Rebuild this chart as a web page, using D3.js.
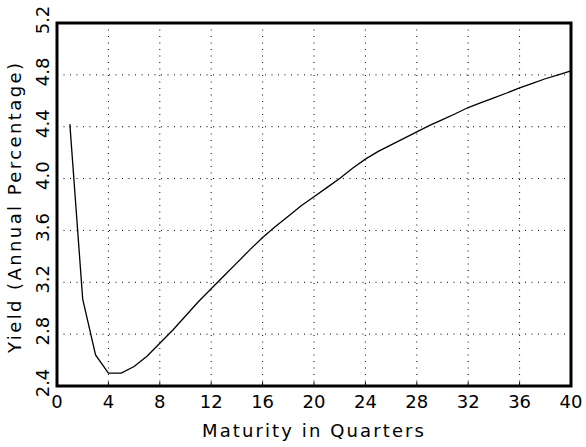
<!DOCTYPE html>
<html>
<meta charset="utf-8">
<script src="https://d3js.org/d3.v7.min.js"></script>
<body style="margin:0;background:#fff">
<script>

// yield curve (quarter -> annual %)
var quarters = d3.range(1, 41);
var yields = [4.42, 3.07, 2.64, 2.50, 2.50, 2.55, 2.63, 2.73, 2.83, 2.94,
              3.05, 3.15, 3.25, 3.35, 3.45, 3.545, 3.63, 3.71, 3.79, 3.86,
              3.93, 4.00, 4.08, 4.15, 4.21, 4.26, 4.31, 4.36, 4.41, 4.455,
              4.50, 4.548, 4.585, 4.623, 4.66, 4.70, 4.735, 4.77, 4.80, 4.83];
var xTicks = [0, 4, 8, 12, 16, 20, 24, 28, 32, 36, 40];
var yTicks = [2.4, 2.8, 3.2, 3.6, 4.0, 4.4, 4.8, 5.2];

var W = 586, H = 447;
var plot = ({left: 57, right: 571, top: 23, bottom: 386});
var font = "DejaVu Sans";

var svg = d3.select("body").append("svg")
  .attr("width", W)
  .attr("height", H);

var x = d3.scaleLinear().domain([0, 40]).range([plot.left, plot.right]);
var y = d3.scaleLinear().domain([2.4, 5.2]).range([plot.bottom, plot.top]);

// dotted grid
svg.append("g").selectAll("line")
  .data(xTicks.slice(1, -1))
  .enter().append("line")
  .attr("x1", d => x(d)).attr("x2", d => x(d))
  .attr("y1", plot.top).attr("y2", plot.bottom)
  .attr("stroke", "#000").attr("stroke-width", 1)
  .attr("stroke-dasharray", "1,5.5");
svg.append("g").selectAll("line")
  .data(yTicks.slice(1, -1))
  .enter().append("line")
  .attr("y1", d => y(d)).attr("y2", d => y(d))
  .attr("x1", plot.left).attr("x2", plot.right)
  .attr("stroke", "#000").attr("stroke-width", 1)
  .attr("stroke-dasharray", "1,5.5");

// little inside ticks on the bottom
svg.append("g").selectAll("line")
  .data(xTicks.slice(1, -1))
  .enter().append("line")
  .attr("x1", d => x(d)).attr("x2", d => x(d))
  .attr("y1", plot.bottom).attr("y2", plot.bottom - 4)
  .attr("stroke", "#000");

// the curve
var line = d3.line()
  .x((d, i) => x(quarters[i]))
  .y(d => y(d));
svg.append("path")
  .datum(yields)
  .attr("d", line)
  .attr("fill", "none")
  .attr("stroke", "#000")
  .attr("stroke-width", 1.3);

// heavy frame
svg.append("rect")
  .attr("x", plot.left).attr("y", plot.top)
  .attr("width", plot.right - plot.left)
  .attr("height", plot.bottom - plot.top)
  .attr("fill", "none")
  .attr("stroke", "#000")
  .attr("stroke-width", 3);

// x tick labels
svg.append("g").selectAll("text")
  .data(xTicks)
  .enter().append("text")
  .attr("x", d => x(d))
  .attr("y", 408)
  .attr("text-anchor", "middle")
  .attr("font-family", font)
  .attr("font-size", 18)
  .text(d => d);

// y tick labels, rotated
svg.append("g").selectAll("text")
  .data(yTicks)
  .enter().append("text")
  .attr("transform", d => `translate(49,${y(d) - 3}) rotate(-90)`)
  .attr("text-anchor", "middle")
  .attr("font-family", font)
  .attr("font-size", 18)
  .text(d => d.toFixed(1));

// axis titles (the original font is wide, so stretch the spacing)
svg.append("text")
  .attr("x", 313)
  .attr("y", 437)
  .attr("text-anchor", "middle")
  .attr("font-family", font)
  .attr("font-size", 18)
  .attr("textLength", 222)
  .attr("lengthAdjust", "spacing")
  .text("Maturity in Quarters");

svg.append("text")
  .attr("transform", `translate(21,208) rotate(-90)`)
  .attr("text-anchor", "middle")
  .attr("font-family", font)
  .attr("font-size", 18)
  .attr("textLength", 290)
  .attr("lengthAdjust", "spacing")
  .text("Yield (Annual Percentage)");

</script>
</body>
</html>
